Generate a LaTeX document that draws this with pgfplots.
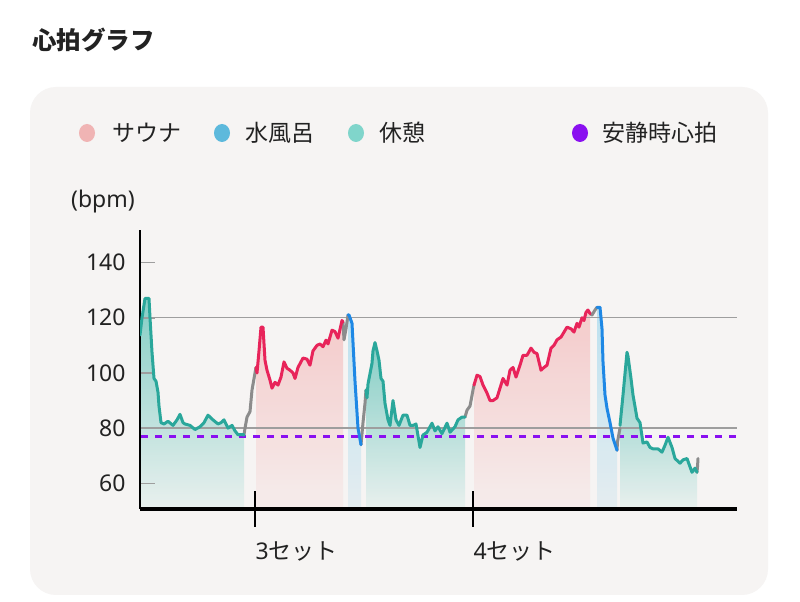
\documentclass[border=0pt]{standalone}
\usepackage{fontspec}
\setmainfont{Noto Sans}
\newfontfamily\jp{Noto Sans CJK JP}
\usepackage{pgfplots}
\usepackage{pgfplotstable}
\pgfplotsset{compat=1.18}

\definecolor{cardbg}{HTML}{F6F4F3}
\definecolor{txt}{HTML}{222222}
\definecolor{saunaline}{HTML}{E8245A}
\definecolor{coldline}{HTML}{1E88E5}
\definecolor{restline}{HTML}{2AA79B}
\definecolor{transline}{HTML}{8C8C8C}
\definecolor{resthr}{HTML}{8A10F0}
\definecolor{saunadot}{HTML}{F0B4B4}
\definecolor{colddot}{HTML}{5DB9DC}
\definecolor{restdot}{HTML}{80D5CB}
\definecolor{gridc}{HTML}{9E9E9E}

% heart rate, x = position along the session
\pgfplotstableread{
x y
140 113.7
142 120
145 127
149 127
150 120
152 107.5
154 98
156 97
158 93
159 88
161 82
164 81.5
168 82.5
173 81
177 83
180 85
183 82
185 81.5
190 81
195 79.5
200 80.5
204 82
208 84.7
213 83
218 81.5
221 82
224 83
228 80
232 81
235 79
238 77.6
243 77.7
244 77.5
}\restA
\pgfplotstableread{
x y
244 77.5
245 80
247 84
250 86
252 93.8
255 100
256 102
}\transA
\pgfplotstableread{
x y
256 102
257 100
259 108
261 116.6
263 116.6
265 104.6
267 101
270 97.4
272 94.5
275 96.6
278 95.6
281 98.5
284 104
287 101.7
290 101
293 100
295 98
298 102
303 105.4
307 105
310 102.8
313 108
317 110
320 110.5
323 109.5
326 111.9
328 110.5
332 115.5
335 115
338 112.6
342 119
343 118.5
}\saunaA
\pgfplotstableread{
x y
343 118.5
344 112
346 116
348 121
}\transB
\pgfplotstableread{
x y
348 121
349 121
352 118
355 97
358 80
361 74
}\coldA
\pgfplotstableread{
x y
361 74
363 82
365 89
366 93.8
}\transC
\pgfplotstableread{
x y
366 93.8
367 91
368 96
372 103.5
373 108
375 111
377 108
379 104.6
381 98
383 97
385 89
388 83
390 81
393 90
396 83
399 81
403 84.7
407 84.7
410 81
413 81
416 81.5
420 73
423 77.5
427 78.5
432 81.8
435 79
438 80.5
442 78
447 81.8
450 78.5
455 80.5
458 83
462 84
465 84
}\restB
\pgfplotstableread{
x y
465 84
467 86.5
470 88
473 93.8
474 95.6
}\transD
\pgfplotstableread{
x y
474 95.6
477 99.2
480 98.7
483 95.6
487 92.7
490 90
493 90
497 91
500 94.5
503 98
507 95.6
510 101
513 102
516 98.5
520 102.8
523 106.4
527 106.4
531 109
534 107.5
537 107
541 101
544 102
547 102.8
551 109
554 110
557 112
561 113
564 114.8
567 116.6
571 116
574 114.8
577 118
579 116.6
582 120
584 119
586 122
588 122.8
590 121.5
}\saunaB
\pgfplotstableread{
x y
590 121.5
592 121
595 122.8
597 123.8
}\transE
\pgfplotstableread{
x y
597 123.8
600 123.8
602 116
603 104
605 92
607 87.2
610 82
613 76.4
617 72
}\coldB
\pgfplotstableread{
x y
617 72
617.5 75
620 80
}\transF
\pgfplotstableread{
x y
620 81
623 92
627 107.5
628 106
631 98
633 92
637 83.6
640 82
643 74.6
647 75
650 73
653 72.5
658 72.5
662 71.3
665 73.8
668 76.7
672 73
675 69
680 67.3
683 68.5
687 69
692 64
695 65.5
697 64
}\restC
\pgfplotstableread{
x y
697 64
697.5 66
698 69
}\transG

\begin{document}
\begin{tikzpicture}[x=1pt,y=1pt]
\pgfplotsset{set layers=standard}
\begin{pgfonlayer}{axis background}
\fill[white] (0,0) rectangle (800,602);
\fill[cardbg, rounded corners=26pt] (30,7) rectangle (768,515);
\end{pgfonlayer}

\node[anchor=west, text=txt, font=\jp\bfseries\fontsize{24.5}{27}\selectfont, inner sep=0pt] at (32,562) {心拍グラフ};

% legend
\fill[saunadot] (87,469) ellipse (8 and 9);
\node[anchor=west, text=txt, font=\jp\fontsize{23}{26}\selectfont, inner sep=0pt] at (112,469) {サウナ};
\fill[colddot] (222,469) ellipse (8 and 9);
\node[anchor=west, text=txt, font=\jp\fontsize{23}{26}\selectfont, inner sep=0pt] at (245,469) {水風呂};
\fill[restdot] (356,469) ellipse (8 and 9);
\node[anchor=west, text=txt, font=\jp\fontsize{23}{26}\selectfont, inner sep=0pt] at (379,469) {休憩};
\fill[resthr] (580,469) ellipse (8 and 9);
\node[anchor=west, text=txt, font=\jp\fontsize{23}{26}\selectfont, inner sep=0pt] at (602,469) {安静時心拍};

\node[anchor=west, text=txt, font=\fontsize{23}{26}\selectfont, inner sep=0pt] at (71,400) {(bpm)};

\begin{axis}[
    at={(140pt,93pt)}, anchor=south west,
    scale only axis,
    width=597pt, height=279pt,
    xmin=140, xmax=737,
    ymin=50.7, ymax=151.8,
    set layers=standard,
    axis lines=left,
    x axis line style={-, line width=3.4pt, black},
    y axis line style={-, line width=2.4pt, black},
    xtick=\empty,
    extra x ticks={255,473},
    extra x tick labels={{3\jp セット},{4\jp セット}},
    extra x tick style={major tick length=36pt, tick align=center,
        tick style={black, line width=1.4pt}},
    ytick={60,80,100,120,140},
    y tick style={gridc, line width=1.6pt},
    tick align=inside,
    major tick length=15pt,
    extra y ticks={80,120},
    extra y tick labels={},
    extra y tick style={grid=major, major tick length=0pt},
    major grid style={gridc, line width=1.4pt},
    /pgf/number format/assume math mode=true,
    ticklabel style={text=txt, font=\fontsize{23}{26}\selectfont},
    yticklabel style={anchor=east, xshift=-11pt},
    xticklabel style={anchor=north west, xshift=-3pt, yshift=-11pt},
    clip=true,
]
% area fills, kept under the grid and the axis lines
\pgfplotsset{area/.style={draw=none, on layer=axis background, fill opacity=0.9}}
\addplot[area, top color=restdot!95!black, bottom color=cardbg!88!restdot] table {\restA} \closedcycle;
\addplot[area, top color=saunadot!75, bottom color=cardbg!88!saunadot] table {\saunaA} \closedcycle;
\addplot[area, top color=colddot!45, bottom color=cardbg!88!colddot] table {\coldA} \closedcycle;
\addplot[area, top color=restdot!95!black, bottom color=cardbg!88!restdot] table {\restB} \closedcycle;
\addplot[area, top color=saunadot!75, bottom color=cardbg!88!saunadot] table {\saunaB} \closedcycle;
\addplot[area, top color=colddot!45, bottom color=cardbg!88!colddot] table {\coldB} \closedcycle;
\addplot[area, top color=restdot!95!black, bottom color=cardbg!88!restdot] table {\restC} \closedcycle;

% resting heart rate
\addplot[resthr, line width=3pt, dash pattern=on 7pt off 7pt] coordinates {(141,77) (737,77)};

% heart rate lines
\pgfplotsset{hr/.style={line width=3pt, line join=round, line cap=round}}
\addplot[hr, transline] table {\transA};
\addplot[hr, transline] table {\transB};
\addplot[hr, transline] table {\transC};
\addplot[hr, transline] table {\transD};
\addplot[hr, transline] table {\transE};
\addplot[hr, transline] table {\transF};
\addplot[hr, transline] table {\transG};
\addplot[hr, restline] table {\restA};
\addplot[hr, saunaline] table {\saunaA};
\addplot[hr, coldline] table {\coldA};
\addplot[hr, restline] table {\restB};
\addplot[hr, saunaline] table {\saunaB};
\addplot[hr, coldline] table {\coldB};
\addplot[hr, restline] table {\restC};
\end{axis}
\end{tikzpicture}
\end{document}
